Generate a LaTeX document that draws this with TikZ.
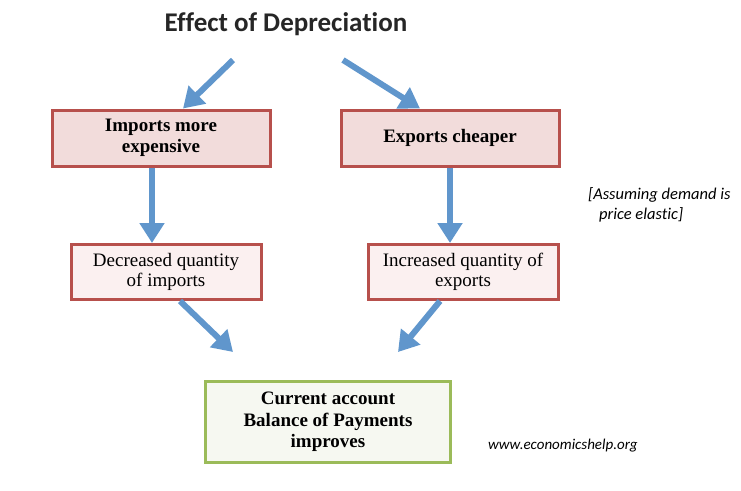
\documentclass[tikz,border=0pt]{standalone}
\usepackage{fontspec}
\setmainfont{Liberation Serif}
\newfontfamily\headfont[Ligatures=NoCommon]{Carlito}
\usetikzlibrary{arrows.meta}
\definecolor{arrowblue}{HTML}{6096CC}
\definecolor{boxred}{HTML}{B7504C}
\definecolor{boxpink}{HTML}{F2DCDB}
\definecolor{boxlight}{HTML}{FBF0F0}
\definecolor{boxgreen}{HTML}{9BBB59}
\definecolor{boxpale}{HTML}{F6F8F1}
\begin{document}
\begin{tikzpicture}[x=1pt, y=-1pt,
block/.style = {draw=boxred, line width=3pt, fill=boxpink, rectangle, minimum height=56pt, minimum width=218pt, align=center, font=\fontsize{19}{20.5}\selectfont\bfseries},
smallblock/.style = {block, fill=boxlight, minimum height=55pt, minimum width=190pt, font=\fontsize{19}{20.5}\selectfont},
result/.style = {block, draw=boxgreen, fill=boxpale, minimum height=81pt, minimum width=245pt, font=\fontsize{19}{21.5}\selectfont\bfseries},
note/.style = {font=\headfont\itshape\fontsize{16.5}{20}\selectfont, align=left, inner sep=0pt},
flow/.style = {draw=arrowblue, line width=6pt, -{Triangle[width=24pt, length=20pt]}},
node distance = 289pt
]
    \useasboundingbox (0,0) rectangle (741,490);

    \node [font=\headfont\bfseries\fontsize{27}{30}\selectfont, text=black!85] (title) at (286,24) {Effect of Depreciation};

    \node [block] (imp) at (161,138) {Imports more\\expensive};
    \node [block, right of=imp] (exp) {Exports cheaper};

    \node [smallblock] (dec) at (166,272) {Decreased quantity\\of imports};
    \node [smallblock, right of=dec, node distance=297pt] (inc) {Increased quantity of\\exports};

    \node [result] (cur) at (328,422) {Current account\\Balance of Payments\\improves};

    \node [note, anchor=west] (elastic) at (588,205) {[Assuming demand is\\\hspace*{11pt}price elastic]};
    \node [font=\headfont\itshape\fontsize{15}{20}\selectfont, inner sep=0pt, anchor=west] (web) at (488,446) {www.economicshelp.org};

    \coordinate (t1) at (233,60);
    \coordinate (t2) at (343,60);

    % from the headline
    \draw [flow] (t1) -- ([xshift=22pt]imp.north);
    \draw [flow] (t2) -- ([xshift=-30pt]exp.north);

    % down to the quantities
    \draw [flow] ([xshift=-9pt]imp.south) -- ([xshift=-14pt]dec.north);
    \draw [flow] (exp.south) -- ([xshift=-13pt]inc.north);

    % into the balance
    \draw [flow] ([xshift=14pt]dec.south) -- ([xshift=-95pt, yshift=28pt]cur.north);
    \draw [flow] ([xshift=-23pt]inc.south) -- ([xshift=70pt, yshift=28pt]cur.north);

\end{tikzpicture}
\end{document}
